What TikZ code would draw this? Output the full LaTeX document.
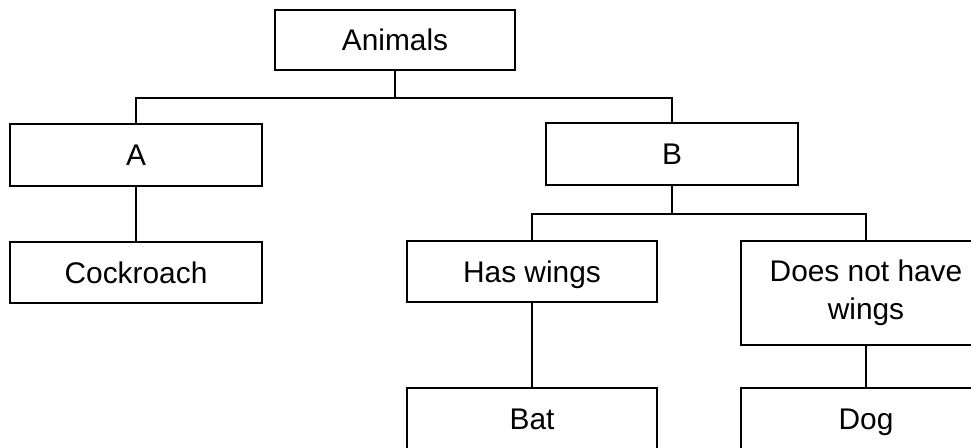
\documentclass[tikz,border=0pt]{standalone}
\usepackage{fontspec}
\setmainfont{Liberation Sans}
\usepackage{tikz}
\usetikzlibrary{calc}

\begin{document}
\begin{tikzpicture}
            \tikzset{plainbox/.style={draw,line width=1pt,minimum width=5.04cm,minimum height=1.24cm,
                     inner sep=0pt,align=center,font=\fontsize{17}{21.6}\selectfont}};
            \tikzset{box/.style={plainbox,text height=12.2pt,text depth=0pt}};
            \tikzset{link/.style={line width=1pt}};
            \useasboundingbox (0,0) rectangle (19.42,-8.94);
            \clip (0,0) rectangle (19.42,-8.94);

            \node[box,minimum width=4.8cm,minimum height=1.2cm] (animals) at (7.9,-0.8){Animals};
            \node[box] (a) at (2.72,-3.1){A};
            \node[box] (b) at (13.44,-3.08){B};
            \node[box,minimum height=1.22cm] (cockroach) at (2.72,-5.45){Cockroach};
            \node[box,minimum width=5cm,minimum height=1.22cm] (haswings) at (10.64,-5.43){Has wings};
            \node[plainbox,minimum width=5cm,minimum height=2.08cm] (nowings) at (17.32,-5.86){Does not have\\wings};
            \node[box,minimum width=5cm] (bat) at (10.64,-8.38){Bat};
            \node[box,minimum width=5cm] (dog) at (17.32,-8.38){Dog};

            \draw[link] (animals.south) -- ++(0,-0.54) -| (a.north);
            \draw[link] (animals.south) -- ++(0,-0.54) -| (b.north);
            \draw[link] (a) -- (cockroach);
            \draw[link] (b.south) -- ++(0,-0.56) -| (haswings.north);
            \draw[link] (b.south) -- ++(0,-0.56) -| (nowings.north);
            \draw[link] (haswings) -- (bat);
            \draw[link] (nowings) -- (dog);
          \end{tikzpicture}
\end{document}
